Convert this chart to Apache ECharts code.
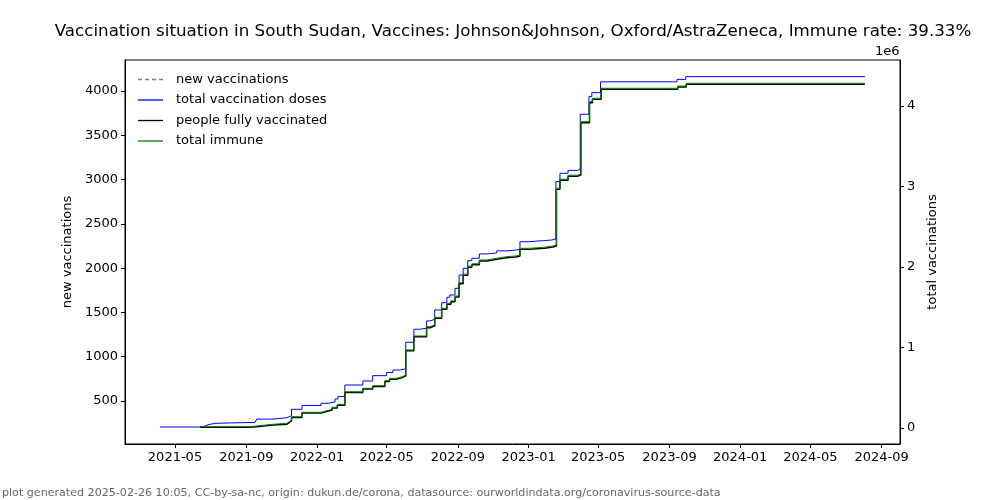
<!DOCTYPE html>
<html>
<head>
<meta charset="utf-8">
<script src="https://cdn.jsdelivr.net/npm/echarts@6/dist/echarts.min.js"></script>
<style>html,body{margin:0;padding:0;background:#fff}#c{width:1000px;height:500px}</style>
</head>
<body>
<div id="c"></div>
<script>
const titleText = 'Vaccination situation in South Sudan, Vaccines: Johnson&Johnson, Oxford/AstraZeneca, Immune rate: 39.33%';
const footerText = 'plot generated 2025-02-26 10:05, CC-by-sa-nc, origin: dukun.de/corona, datasource: ourworldindata.org/coronavirus-source-data';
const seriesNames = ['new vaccinations', 'total vaccination doses', 'people fully vaccinated', 'total immune'];
const leftTicks = [500, 1000, 1500, 2000, 2500, 3000, 3500, 4000];
const rightTicks = [0, 1000000, 2000000, 3000000, 4000000];
const xTicks = ['2021-05-01','2021-09-01','2022-01-01','2022-05-01','2022-09-01','2023-01-01','2023-05-01','2023-09-01','2024-01-01','2024-05-01','2024-09-01'];

const newVaccinations = [];

const totalDoses = [
 ['2021-04-05',12000],['2021-06-13',20000],['2021-06-20',40000],['2021-06-27',58000],['2021-07-09',70000],
 ['2021-09-16',90000],['2021-09-19',110000],['2021-10-17',128000],['2021-11-10',150000],['2021-11-18',232000],
 ['2021-12-06',280000],['2022-01-08',307000],['2022-01-20',323000],['2022-02-01',360000],['2022-02-06',390000],
 ['2022-02-18',534000],['2022-03-21',584000],['2022-04-07',650000],['2022-05-01',690000],['2022-05-12',720000],
 ['2022-05-24',735000],['2022-06-03',1065000],['2022-06-17',1226000],['2022-06-27',1240000],['2022-07-09',1330000],
 ['2022-07-15',1350000],['2022-07-23',1466000],['2022-08-04',1557000],['2022-08-13',1624000],['2022-08-18',1652000],
 ['2022-08-27',1735000],['2022-09-03',1900000],['2022-09-10',1984000],['2022-09-18',2078000],['2022-09-25',2108000],
 ['2022-10-08',2162000],['2022-10-21',2175000],['2022-11-07',2200000],['2022-11-24',2210000],['2022-12-10',2220000],
 ['2022-12-17',2314000],['2023-01-01',2327000],['2023-01-26',2335000],['2023-02-10',2348000],['2023-02-17',3060000],
 ['2023-02-24',3164000],['2023-03-10',3200000],['2023-03-27',3217000],['2023-03-31',3897000],['2023-04-15',4116000],
 ['2023-04-20',4166000],['2023-05-05',4300000],['2023-09-14',4330000],['2023-09-29',4364000],['2024-08-03',4364000]
];

const peopleFully = [
 ['2021-06-13',8000],['2021-09-07',15000],['2021-09-19',36000],['2021-10-17',48000],['2021-11-10',68000],
 ['2021-11-14',90000],['2021-11-18',130000],['2021-12-06',185000],['2022-01-08',201000],['2022-01-16',222000],
 ['2022-01-27',247000],['2022-02-05',284000],['2022-02-18',440000],['2022-03-21',483000],['2022-04-07',515000],
 ['2022-04-28',577000],['2022-05-06',606000],['2022-05-18',626000],['2022-05-28',647000],['2022-06-03',958000],
 ['2022-06-17',1132000],['2022-07-09',1246000],['2022-07-15',1268000],['2022-07-23',1363000],['2022-08-04',1475000],
 ['2022-08-13',1537000],['2022-08-20',1568000],['2022-08-27',1628000],['2022-09-03',1793000],['2022-09-10',1898000],
 ['2022-09-18',1998000],['2022-09-25',2028000],['2022-10-08',2075000],['2022-10-21',2096000],['2022-11-07',2116000],
 ['2022-11-24',2125000],['2022-12-10',2137000],['2022-12-17',2220000],['2023-01-03',2233000],['2023-01-28',2249000],
 ['2023-02-12',2261000],['2023-02-18',2966000],['2023-02-24',3078000],['2023-03-10',3128000],['2023-03-27',3143000],
 ['2023-04-01',3793000],['2023-04-16',4041000],['2023-04-21',4084000],['2023-05-06',4208000],['2023-09-15',4236000],
 ['2023-09-30',4270000],['2024-08-03',4270000]
];

const totalImmune = [
 ['2021-06-13',16000],['2021-09-07',25000],['2021-09-19',46000],['2021-10-17',58000],['2021-11-10',78000],
 ['2021-11-14',100000],['2021-11-18',140000],['2021-12-06',195000],['2022-01-08',211000],['2022-01-16',232000],
 ['2022-01-27',257000],['2022-02-05',294000],['2022-02-18',450000],['2022-03-21',493000],['2022-04-07',525000],
 ['2022-04-28',588000],['2022-05-06',617000],['2022-05-18',637000],['2022-05-28',658000],['2022-06-03',969000],
 ['2022-06-17',1143000],['2022-07-09',1258000],['2022-07-15',1280000],['2022-07-23',1375000],['2022-08-04',1487000],
 ['2022-08-13',1549000],['2022-08-20',1580000],['2022-08-27',1640000],['2022-09-03',1805000],['2022-09-10',1910000],
 ['2022-09-18',2010000],['2022-09-25',2040000],['2022-10-08',2087000],['2022-10-21',2108000],['2022-11-07',2128000],
 ['2022-11-24',2137000],['2022-12-10',2149000],['2022-12-17',2232000],['2023-01-03',2245000],['2023-01-28',2261000],
 ['2023-02-12',2273000],['2023-02-18',2978000],['2023-02-24',3090000],['2023-03-10',3140000],['2023-03-27',3155000],
 ['2023-04-01',3805000],['2023-04-16',4053000],['2023-04-21',4096000],['2023-05-06',4220000],['2023-09-15',4248000],
 ['2023-09-30',4282000],['2024-08-03',4282000]
];

const FONT = 'DejaVu Sans';
const chart = echarts.init(document.getElementById('c'), null, {renderer: 'canvas'});
const ts = s => new Date(s + 'T00:00:00Z').getTime();
const xTickValues = xTicks.map(ts);
const lineIcon = 'path://M0,0H25V1.3H0Z';
const dashIcon = 'path://M0,0H4V1.3H0Z M7,0H11V1.3H7Z M14,0H18V1.3H14Z M21,0H25V1.3H21Z';

chart.setOption({
  animation: false,
  backgroundColor: '#fff',
  textStyle: {fontFamily: FONT},
  title: [
    {text: titleText, left: 508, top: 18, textAlign: 'center',
     textStyle: {fontFamily: FONT, fontSize: 16.7, fontWeight: 'normal', color: '#000'}},
    {text: '1e6', left: 870, top: 40,
     textStyle: {fontFamily: FONT, fontSize: 13, fontWeight: 'normal', color: '#000'}},
    {text: footerText, left: -3, top: 483,
     textStyle: {fontFamily: FONT, fontSize: 11.1, fontWeight: 'normal', color: '#666'}}
  ],
  grid: {left: 125, right: 100, top: 60, bottom: 56, show: true, borderColor: '#000', borderWidth: 1, backgroundColor: 'transparent'},
  legend: {
    orient: 'vertical', left: 133, top: 68, itemWidth: 25, itemHeight: 1.3, itemGap: 7.5,
    data: seriesNames.map((n, i) => ({name: n, icon: i === 0 ? dashIcon : lineIcon})),
    textStyle: {fontFamily: FONT, fontSize: 13, color: '#000', padding: [0, 0, 0, 8]}
  },
  xAxis: {
    type: 'value',
    min: ts('2021-02-03') + 18*3600*1000,
    max: ts('2024-10-02') + 14*3600*1000,
    splitLine: {show: false},
    axisLine: {show: true, onZero: false, lineStyle: {color: '#000'}},
    axisTick: {show: true, length: 4, lineStyle: {color: '#000'}, customValues: xTickValues},
    axisLabel: {show: true, color: '#000', fontSize: 13, fontFamily: FONT, margin: 7,
      customValues: xTickValues,
      formatter: v => { const d = new Date(v); return d.getUTCFullYear() + '-' + String(d.getUTCMonth()+1).padStart(2,'0'); }}
  },
  yAxis: [
    {
      type: 'value', position: 'left', min: 14.5, max: 4350,
      name: 'new vaccinations', nameLocation: 'middle', nameGap: 51, nameRotate: 90,
      nameTextStyle: {fontFamily: FONT, fontSize: 13, color: '#000'},
      splitLine: {show: false},
      axisLine: {show: true, lineStyle: {color: '#000'}},
      axisTick: {show: true, length: 4, lineStyle: {color: '#000'}, customValues: leftTicks},
      axisLabel: {color: '#000', fontSize: 13, fontFamily: FONT, margin: 7, customValues: leftTicks,
        formatter: v => String(v)}
    },
    {
      type: 'value', position: 'right', min: -198800, max: 4571000,
      name: 'total vaccinations', nameLocation: 'middle', nameGap: 23, nameRotate: 90,
      nameTextStyle: {fontFamily: FONT, fontSize: 13, color: '#000'},
      splitLine: {show: false},
      axisLine: {show: true, lineStyle: {color: '#000'}},
      axisTick: {show: true, length: 4, lineStyle: {color: '#000'}, customValues: rightTicks},
      axisLabel: {color: '#000', fontSize: 13, fontFamily: FONT, margin: 7, customValues: rightTicks,
        formatter: v => String(Math.round(v / 1e6))}
    }
  ],
  series: [
    {name: seriesNames[0], type: 'line', yAxisIndex: 0, data: newVaccinations, showSymbol: false, symbol: 'none',
     lineStyle: {color: '#808080', width: 1, type: [4, 2]}, itemStyle: {color: '#808080'}},
    {name: seriesNames[1], type: 'line', yAxisIndex: 1, step: 'end', data: totalDoses.map(d => [ts(d[0]), d[1]]), showSymbol: false, symbol: 'none',
     lineStyle: {color: '#0000ff', width: 1}, itemStyle: {color: '#0000ff'}},
    {name: seriesNames[2], type: 'line', yAxisIndex: 1, step: 'end', data: peopleFully.map(d => [ts(d[0]), d[1]]), showSymbol: false, symbol: 'none',
     lineStyle: {color: '#000000', width: 1.5}, itemStyle: {color: '#000000'}},
    {name: seriesNames[3], type: 'line', yAxisIndex: 1, step: 'end', data: totalImmune.map(d => [ts(d[0]), d[1]]), showSymbol: false, symbol: 'none',
     lineStyle: {color: '#008000', width: 1}, itemStyle: {color: '#008000'}}
  ]
});
</script>
</body>
</html>
